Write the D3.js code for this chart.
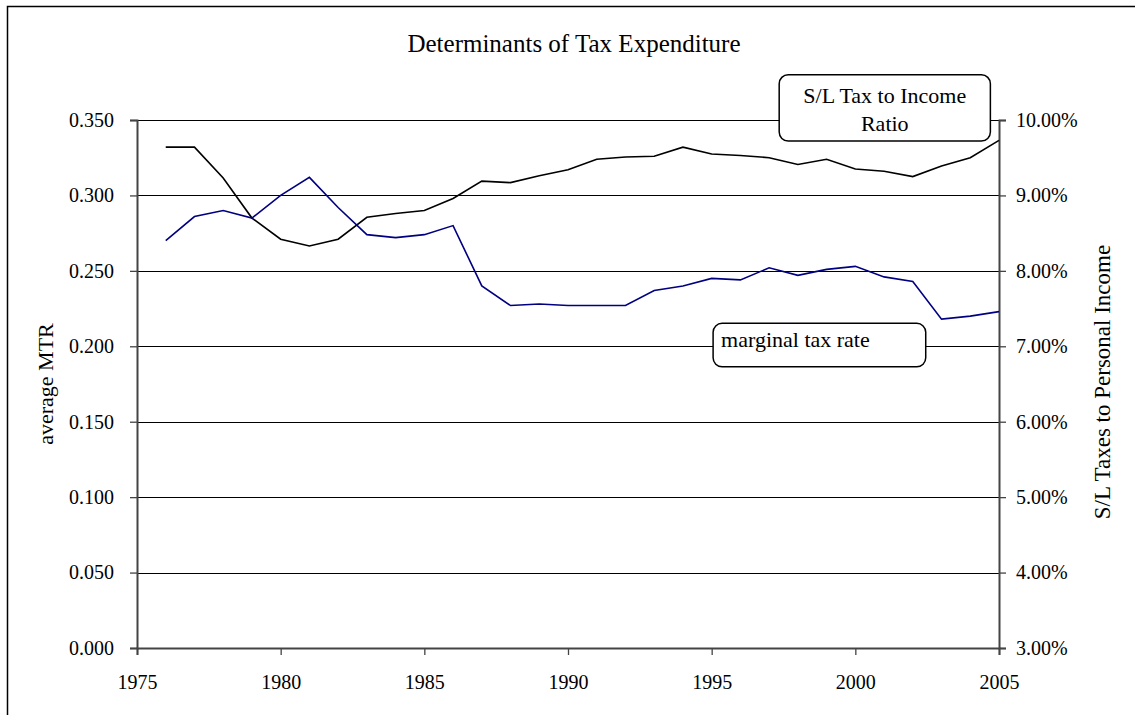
<!DOCTYPE html>
<html>
<head>
<meta charset="utf-8">
<script src="https://cdn.jsdelivr.net/npm/d3@7"></script>
<style>
  body { margin: 0; background: #fff; }
  svg { display: block; font-family: "Liberation Serif", "Times New Roman", serif; }
</style>
</head>
<body>
<svg id="chart"></svg>
<script>
// years on the x axis
const years = d3.range(1976, 2006);

// average marginal tax rate (left axis)
const mtr = [0.270, 0.286, 0.290, 0.285, 0.300, 0.312, 0.292, 0.274, 0.272, 0.274,
  0.280, 0.240, 0.227, 0.228, 0.227, 0.227, 0.227, 0.237, 0.240, 0.245,
  0.244, 0.252, 0.247, 0.251, 0.253, 0.246, 0.243, 0.218, 0.220, 0.223];

// S/L taxes to personal income, in percent (right axis)
const slRatio = [9.64, 9.64, 9.23, 8.70, 8.42, 8.33, 8.42, 8.71, 8.76, 8.80,
  8.96, 9.19, 9.17, 9.26, 9.34, 9.48, 9.51, 9.52, 9.64, 9.55,
  9.53, 9.50, 9.41, 9.48, 9.35, 9.32, 9.25, 9.39, 9.50, 9.73];

const xTicks = d3.range(1975, 2006, 5);
const leftTicks = d3.range(0, 0.351, 0.05);
const rightTicks = d3.range(3, 10.01, 1);

const width = 1135, height = 715;
const margin = { top: 120, right: 136, bottom: 67, left: 137 };

const svg = d3.select("#chart").attr("width", width).attr("height", height);

// outer frame (cut off by the picture on the right and bottom)
svg.append("rect")
  .attr("x", 7.5).attr("y", 6.5)
  .attr("width", width + 20).attr("height", height + 20)
  .attr("fill", "none").attr("stroke", "#000").attr("stroke-width", 1.5);

const x = d3.scaleLinear().domain([1975, 2005]).range([margin.left, width - margin.right]);
const yL = d3.scaleLinear().domain([0, 0.35]).range([height - margin.bottom, margin.top]);
const yR = d3.scaleLinear().domain([3, 10]).range([height - margin.bottom, margin.top]);

// title
svg.append("text")
  .attr("x", 574).attr("y", 52)
  .attr("text-anchor", "middle")
  .attr("font-size", 25)
  .text("Determinants of Tax Expenditure");

// gridlines
svg.append("g")
  .selectAll("line")
  .data(leftTicks.slice(1))
  .join("line")
  .attr("x1", x(1975)).attr("x2", x(2005))
  .attr("y1", d => Math.round(yL(d)) + 0.5).attr("y2", d => Math.round(yL(d)) + 0.5)
  .attr("stroke", "#000").attr("stroke-width", 1);

// axes
const axisLeft = svg.append("g")
  .attr("transform", `translate(${x(1975)},0)`)
  .call(d3.axisLeft(yL).tickValues(leftTicks).tickFormat(d3.format(".3f")).tickSize(7).tickPadding(16));

const axisRight = svg.append("g")
  .attr("transform", `translate(${x(2005)},0)`)
  .call(d3.axisRight(yR).tickValues(rightTicks).tickFormat(d => d.toFixed(2) + "%").tickSize(7).tickPadding(10));

const axisBottom = svg.append("g")
  .attr("transform", `translate(0,${yL(0)})`)
  .call(d3.axisBottom(x).tickValues(xTicks).tickFormat(d3.format("d")).tickSize(7).tickPadding(20));

[axisLeft, axisRight, axisBottom].forEach(g => {
  g.attr("font-family", null);
  g.select(".domain").attr("stroke", "#444").attr("stroke-width", 2);
  g.selectAll(".tick line").attr("stroke", "#444").attr("stroke-width", 1.3);
  g.selectAll(".tick text")
    .style("font-family", "'Liberation Serif', 'Times New Roman', serif")
    .attr("font-size", 20).attr("fill", "#000");
});

// axis titles
svg.append("text")
  .attr("transform", `translate(53,${(yL(0) + yL(0.35)) / 2}) rotate(-90)`)
  .attr("text-anchor", "middle")
  .attr("font-size", 22)
  .text("average MTR");

svg.append("text")
  .attr("transform", `translate(1110,382) rotate(-90)`)
  .attr("text-anchor", "middle")
  .attr("font-size", 23)
  .text("S/L Taxes to Personal Income");

// lines
const mtrLine = d3.line().x((d, i) => x(years[i])).y(d => yL(d));
const slLine = d3.line().x((d, i) => x(years[i])).y(d => yR(d));

svg.append("path")
  .datum(slRatio)
  .attr("d", slLine)
  .attr("fill", "none").attr("stroke", "#000").attr("stroke-width", 1.6);

svg.append("path")
  .datum(mtr)
  .attr("d", mtrLine)
  .attr("fill", "none").attr("stroke", "#000080").attr("stroke-width", 1.6);

// callouts, anchored in data units
const boxRatio = svg.append("g");
boxRatio.append("rect")
  .attr("x", x(1997.35)).attr("y", yR(10.60))
  .attr("width", x(2004.7) - x(1997.35)).attr("height", yR(9.72) - yR(10.60))
  .attr("rx", 9)
  .attr("fill", "#fff").attr("stroke", "#000").attr("stroke-width", 1.5);
boxRatio.append("text")
  .attr("x", (x(1997.35) + x(2004.7)) / 2).attr("y", yR(10.23))
  .attr("text-anchor", "middle").attr("font-size", 22)
  .text("S/L Tax to Income");
boxRatio.append("text")
  .attr("x", (x(1997.35) + x(2004.7)) / 2).attr("y", yR(9.86))
  .attr("text-anchor", "middle").attr("font-size", 22)
  .text("Ratio");

const boxMtr = svg.append("g");
boxMtr.append("rect")
  .attr("x", x(1995.05)).attr("y", yL(0.2152))
  .attr("width", x(2002.45) - x(1995.05)).attr("height", yL(0.1864) - yL(0.2152))
  .attr("rx", 9)
  .attr("fill", "#fff").attr("stroke", "#000").attr("stroke-width", 1.5);
boxMtr.append("text")
  .attr("x", x(1995.05) + 8).attr("y", yL(0.1995))
  .attr("font-size", 22)
  .text("marginal tax rate");
</script>
</body>
</html>
